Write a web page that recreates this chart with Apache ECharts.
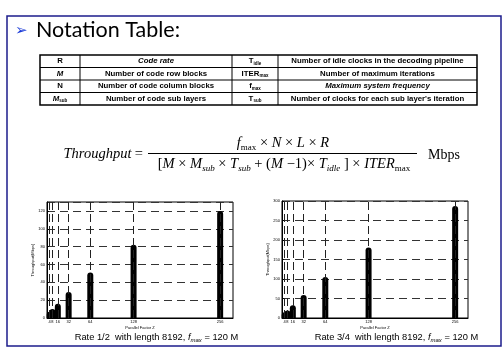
<!DOCTYPE html>
<html>
<head>
<meta charset="utf-8">
<script src="https://cdn.jsdelivr.net/npm/echarts@6/dist/echarts.min.js"></script>
<style>
html, body { margin: 0; padding: 0; background: #fff; }
#main { width: 502px; height: 350px; }
</style>
</head>
<body>
<div id="main"></div>
<script>
// 并行因子 Z 与吞吐量 (Mbps)
const factorZ = [4, 8, 16, 32, 64, 128, 256];
const rateHalf = [7, 10, 16, 29, 51, 82, 120];
const rateThreeQuarter = [15, 19, 33, 59, 105, 181, 287];

// 符号表
const symbolCol = ['{b|R}', '{bi|M}', '{b|N}', '{bi|M}{s|sub}'];
const meaningCol = ['Code rate', 'Number of code row blocks', 'Number of code column blocks', 'Number of code sub layers'];
const symbolCol2 = ['{b|T}{s|idle}', '{b|ITER}{s|max}', '{b|f}{s|max}', '{b|T}{s|sub}'];
const meaningCol2 = ['Number of idle clocks in the decoding pipeline', 'Number of maximum iterations',
  'Maximum system frequency', "Number of clocks for each sub layer's iteration"];

const colX = [40, 80, 232, 278, 477];
const rowTop = 55;
const rowH = 12.5;

const tableFont = 'Liberation Sans';
const tableRich = {
  b: { fontSize: 7.8, fontWeight: 'bold', fontFamily: tableFont, lineHeight: 10, color: '#000' },
  bi: { fontSize: 7.8, fontWeight: 'bold', fontStyle: 'italic', fontFamily: tableFont, lineHeight: 10, color: '#000' },
  s: { fontSize: 4.5, fontWeight: 'bold', fontFamily: tableFont, lineHeight: 10, verticalAlign: 'bottom', color: '#000' },
};

function cellText(x, y, text, rich) {
  return {
    type: 'text',
    x: x, y: y,
    style: { text: text, rich: rich, align: 'center', verticalAlign: 'middle' },
  };
}

const graphics = [];
// 外框
graphics.push({
  type: 'rect',
  shape: { x: 7, y: 16, width: 494, height: 330 },
  style: { fill: 'none', stroke: '#1c1c8c', lineWidth: 1.5 },
});
// 标题
graphics.push({
  type: 'text', x: 15, y: 31,
  style: { text: '➢', fontSize: 15, fontFamily: 'DejaVu Sans', fill: '#1a3ad8', verticalAlign: 'middle' },
});
graphics.push({
  type: 'text', x: 36, y: 30,
  style: { text: 'Notation Table:', fontSize: 21.5, fontFamily: 'Lato', fill: '#000', verticalAlign: 'middle' },
});
// 表格线
graphics.push({
  type: 'rect',
  shape: { x: colX[0], y: rowTop, width: colX[4] - colX[0], height: rowH * 4 },
  style: { fill: 'none', stroke: '#000', lineWidth: 1.5 },
});
for (let i = 1; i < 4; i++) {
  graphics.push({
    type: 'line',
    shape: { x1: colX[0], y1: rowTop + rowH * i, x2: colX[4], y2: rowTop + rowH * i },
    style: { stroke: '#000', lineWidth: 1 },
  });
  graphics.push({
    type: 'line',
    shape: { x1: colX[i], y1: rowTop, x2: colX[i], y2: rowTop + rowH * 4 },
    style: { stroke: '#000', lineWidth: 1 },
  });
}
for (let r = 0; r < 4; r++) {
  const cy = rowTop + rowH * r + rowH / 2;
  graphics.push(cellText((colX[0] + colX[1]) / 2, cy, symbolCol[r], tableRich));
  graphics.push(cellText((colX[1] + colX[2]) / 2, cy,
    '{' + (r === 0 ? 'bi' : 'b') + '|' + meaningCol[r] + '}', tableRich));
  graphics.push(cellText((colX[2] + colX[3]) / 2, cy, symbolCol2[r], tableRich));
  graphics.push(cellText((colX[3] + colX[4]) / 2, cy,
    '{' + (r === 2 ? 'bi' : 'b') + '|' + meaningCol2[r] + '}', tableRich));
}

// 吞吐量公式
const mathRich = {
  i: { fontSize: 14.5, fontStyle: 'italic', fontFamily: 'Liberation Serif', lineHeight: 18, color: '#000' },
  n: { fontSize: 14.5, fontFamily: 'Liberation Serif', lineHeight: 18, color: '#000' },
  s: { fontSize: 9, fontFamily: 'Liberation Serif', lineHeight: 18, verticalAlign: 'bottom', color: '#000' },
  si: { fontSize: 9, fontStyle: 'italic', fontFamily: 'Liberation Serif', lineHeight: 18, verticalAlign: 'bottom', color: '#000' },
};
graphics.push({
  type: 'text', x: 143, y: 154,
  style: { text: '{i|Throughput} {n|=}', rich: mathRich, align: 'right', verticalAlign: 'middle' },
});
graphics.push({
  type: 'line',
  shape: { x1: 148, y1: 153.5, x2: 417, y2: 153.5 },
  style: { stroke: '#000', lineWidth: 1 },
});
graphics.push({
  type: 'text', x: 283, y: 143,
  style: { text: '{i|f}{s|max}{n| × }{i|N}{n| × }{i|L}{n| × }{i|R}', rich: mathRich, align: 'center', verticalAlign: 'middle' },
});
graphics.push({
  type: 'text', x: 284, y: 164,
  style: {
    text: '{n|[}{i|M}{n| × }{i|M}{si|sub}{n| × }{i|T}{si|sub}{n| + (}{i|M}{n| −1)× }{i|T}{si|idle}{n| ] × }{i|ITER}{s|max}',
    rich: mathRich, align: 'center', verticalAlign: 'middle',
  },
});
graphics.push({
  type: 'text', x: 428, y: 155,
  style: { text: 'Mbps', fontSize: 14, fontFamily: 'Liberation Serif', fill: '#000', verticalAlign: 'middle' },
});

// 图下标注
const capRich = {
  n: { fontSize: 9.3, fontFamily: 'Liberation Sans', lineHeight: 12, color: '#000' },
  i: { fontSize: 9.3, fontStyle: 'italic', fontFamily: 'Liberation Sans', lineHeight: 12, color: '#000' },
  s: { fontSize: 6, fontStyle: 'italic', fontFamily: 'Liberation Sans', lineHeight: 12, verticalAlign: 'bottom', color: '#000' },
};
graphics.push(cellText(156.5, 337, '{n|Rate 1/2  with length 8192, }{i|f}{s|max}{n| = 120 M}', capRich));
graphics.push(cellText(396.5, 337, '{n|Rate 3/4  with length 8192, }{i|f}{s|max}{n| = 120 M}', capRich));

function makeX(idx) {
  return {
    gridIndex: idx,
    type: 'value',
    min: 0,
    max: 275,
    name: 'Parallel Factor Z',
    nameLocation: 'middle',
    nameGap: 8,
    nameTextStyle: { fontSize: 4, fontFamily: 'Liberation Sans', color: '#000' },
    axisLine: { lineStyle: { color: '#000', width: 1 } },
    axisTick: { show: true, inside: true, length: 2, customValues: factorZ, lineStyle: { color: '#000' } },
    axisLabel: { customValues: factorZ, fontSize: 4, margin: 2, color: '#000', fontFamily: 'Liberation Sans' },
    splitLine: { show: false },
  };
}
function makeY(idx, max, interval) {
  return {
    gridIndex: idx,
    type: 'value',
    min: 0,
    max: max,
    interval: interval,
    name: 'Throughput(Mbps)',
    nameLocation: 'middle',
    nameGap: 12,
    nameTextStyle: { fontSize: 4, fontFamily: 'Liberation Sans', color: '#000' },
    axisLine: { show: true, lineStyle: { color: '#000', width: 1 } },
    axisTick: { show: true, inside: true, length: 2, lineStyle: { color: '#000' } },
    axisLabel: { fontSize: 4, margin: 2, color: '#000', fontFamily: 'Liberation Sans', showMaxLabel: max % interval === 0 },
    splitLine: { show: true, lineStyle: { color: '#333', width: 1, type: [8, 5] } },
  };
}
function makeSeries(idx, values) {
  return {
    type: 'bar',
    xAxisIndex: idx,
    yAxisIndex: idx,
    barWidth: 6,
    itemStyle: { color: '#000', borderRadius: [3, 3, 0, 0] },
    data: factorZ.map((z, i) => [z, values[i]]),
    animation: false,
    markLine: {
      silent: true,
      symbol: 'none',
      label: { show: false },
      lineStyle: { color: '#222', width: 1, type: [8, 4] },
      data: factorZ.map((z) => ({ xAxis: z })),
    },
  };
}

const chart = echarts.init(document.getElementById('main'));
chart.setOption({
  backgroundColor: '#fff',
  animation: false,
  grid: [
    { left: 47, top: 202, width: 186, height: 116, show: true, borderColor: '#000', borderWidth: 1 },
    { left: 282, top: 201, width: 186, height: 117, show: true, borderColor: '#000', borderWidth: 1 },
  ],
  xAxis: [makeX(0), makeX(1)],
  yAxis: [makeY(0, 130, 20), makeY(1, 300, 50)],
  series: [makeSeries(0, rateHalf), makeSeries(1, rateThreeQuarter)],
  graphic: graphics,
});
</script>
</body>
</html>
